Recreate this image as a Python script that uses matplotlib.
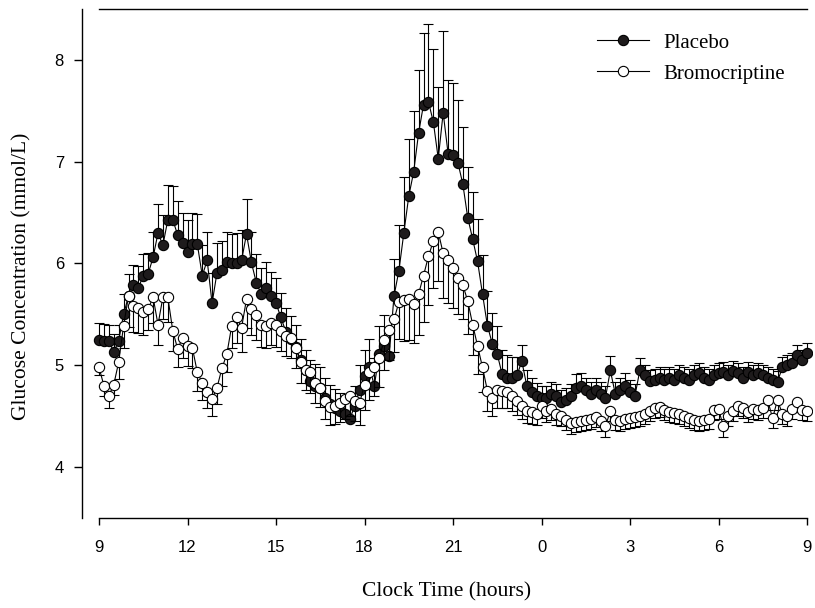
import numpy as np
import matplotlib
matplotlib.use("Agg")
import matplotlib.pyplot as plt

# Glucose (mmol/L), sampled every 10 min from 09:00 to 09:00 next day
placebo = [
    5.25, 5.24, 5.24, 5.13, 5.24, 5.50, 5.68, 5.79, 5.76, 5.88,
    5.90, 6.06, 6.30, 6.18, 6.43, 6.43, 6.28, 6.20, 6.11, 6.19,
    6.19, 5.88, 6.03, 5.61, 5.91, 5.94, 6.01, 6.00, 6.00, 6.03,
    6.29, 6.01, 5.81, 5.70, 5.76, 5.68, 5.61, 5.47, 5.33, 5.26,
    5.18, 5.05, 4.95, 4.85, 4.80, 4.78, 4.68, 4.62, 4.58, 4.55,
    4.52, 4.47, 4.60, 4.76, 4.89, 4.98, 4.80, 5.11, 5.19, 5.09,
    5.68, 5.93, 6.30, 6.66, 6.90, 7.28, 7.56, 7.59, 7.39, 7.03,
    7.48, 7.08, 7.07, 6.99, 6.78, 6.45, 6.24, 6.02, 5.70, 5.39,
    5.21, 5.11, 4.91, 4.88, 4.88, 4.90, 5.04, 4.80, 4.74, 4.70,
    4.68, 4.68, 4.72, 4.70, 4.64, 4.66, 4.70, 4.78, 4.80, 4.76,
    4.72, 4.76, 4.72, 4.68, 4.95, 4.72, 4.76, 4.80, 4.74, 4.70,
    4.95, 4.90, 4.85, 4.86, 4.88, 4.86, 4.88, 4.86, 4.90, 4.88,
    4.86, 4.90, 4.92, 4.88, 4.86, 4.90, 4.92, 4.93, 4.90, 4.94,
    4.92, 4.88, 4.93, 4.90, 4.92, 4.90, 4.88, 4.86, 4.84, 4.98,
    5.00, 5.02, 5.10, 5.05, 5.12,
]
placebo_sem = [
    0.17, 0.17, 0.16, 0.18, 0.16, 0.20, 0.22, 0.20, 0.22, 0.21,
    0.20, 0.25, 0.28, 0.30, 0.34, 0.33, 0.33, 0.30, 0.32, 0.31,
    0.30, 0.30, 0.28, 0.30, 0.29, 0.28, 0.30, 0.29, 0.30, 0.30,
    0.34, 0.30, 0.28, 0.26, 0.25, 0.24, 0.25, 0.24, 0.23, 0.22,
    0.22, 0.21, 0.20, 0.20, 0.21, 0.20, 0.20, 0.19, 0.19, 0.18,
    0.18, 0.18, 0.20, 0.24, 0.26, 0.28, 0.27, 0.28, 0.30, 0.28,
    0.36, 0.45, 0.55, 0.56, 0.60, 0.62, 0.70, 0.76, 0.72, 0.70,
    0.80, 0.72, 0.70, 0.62, 0.56, 0.50, 0.46, 0.42, 0.38, 0.34,
    0.30, 0.28, 0.24, 0.22, 0.20, 0.18, 0.16, 0.15, 0.14, 0.13,
    0.12, 0.12, 0.12, 0.12, 0.12, 0.12, 0.12, 0.13, 0.12, 0.12,
    0.12, 0.12, 0.12, 0.12, 0.14, 0.12, 0.12, 0.12, 0.12, 0.12,
    0.12, 0.10, 0.10, 0.10, 0.10, 0.10, 0.10, 0.10, 0.10, 0.10,
    0.10, 0.10, 0.10, 0.10, 0.10, 0.10, 0.10, 0.10, 0.10, 0.10,
    0.10, 0.10, 0.10, 0.10, 0.10, 0.10, 0.10, 0.10, 0.10, 0.10,
    0.10, 0.10, 0.10, 0.10, 0.10,
]
bromocriptine = [
    4.98, 4.80, 4.70, 4.81, 5.03, 5.39, 5.68, 5.58, 5.56, 5.52,
    5.55, 5.67, 5.40, 5.67, 5.67, 5.34, 5.16, 5.27, 5.19, 5.17,
    4.93, 4.83, 4.74, 4.67, 4.78, 4.97, 5.11, 5.39, 5.47, 5.37,
    5.65, 5.55, 5.49, 5.40, 5.39, 5.42, 5.40, 5.34, 5.29, 5.27,
    5.17, 5.03, 4.95, 4.93, 4.83, 4.78, 4.65, 4.59, 4.60, 4.63,
    4.67, 4.70, 4.65, 4.63, 4.81, 4.93, 4.98, 5.07, 5.25, 5.35,
    5.45, 5.62, 5.64, 5.65, 5.60, 5.70, 5.88, 6.07, 6.22, 6.31,
    6.10, 6.03, 5.96, 5.86, 5.79, 5.63, 5.40, 5.19, 4.98, 4.75,
    4.68, 4.76, 4.75, 4.74, 4.70, 4.65, 4.60, 4.55, 4.54, 4.52,
    4.60, 4.55, 4.57, 4.52, 4.50, 4.46, 4.43, 4.44, 4.45, 4.46,
    4.47, 4.49, 4.45, 4.40, 4.55, 4.46, 4.45, 4.47, 4.48, 4.49,
    4.50, 4.52, 4.55, 4.58, 4.59, 4.56, 4.54, 4.53, 4.52, 4.50,
    4.48, 4.46, 4.45, 4.46, 4.47, 4.56, 4.57, 4.40, 4.50, 4.55,
    4.60, 4.58, 4.54, 4.57, 4.56, 4.58, 4.66, 4.48, 4.66, 4.52,
    4.50, 4.57, 4.64, 4.56, 4.55,
]
bromocriptine_sem = [
    0.08, 0.10, 0.12, 0.10, 0.16, 0.22, 0.30, 0.25, 0.24, 0.22,
    0.20, 0.25, 0.20, 0.22, 0.24, 0.20, 0.18, 0.20, 0.20, 0.20,
    0.18, 0.17, 0.16, 0.17, 0.16, 0.17, 0.18, 0.22, 0.25, 0.24,
    0.28, 0.25, 0.24, 0.22, 0.22, 0.22, 0.22, 0.20, 0.20, 0.20,
    0.20, 0.20, 0.19, 0.20, 0.20, 0.19, 0.18, 0.18, 0.18, 0.19,
    0.20, 0.20, 0.20, 0.22, 0.25, 0.27, 0.28, 0.28, 0.30, 0.30,
    0.32, 0.36, 0.40, 0.40, 0.38, 0.40, 0.45, 0.48, 0.46, 0.48,
    0.44, 0.42, 0.40, 0.36, 0.34, 0.32, 0.30, 0.28, 0.24, 0.20,
    0.18, 0.18, 0.17, 0.16, 0.15, 0.14, 0.13, 0.12, 0.12, 0.11,
    0.12, 0.11, 0.11, 0.11, 0.10, 0.10, 0.10, 0.10, 0.10, 0.10,
    0.10, 0.10, 0.10, 0.10, 0.10, 0.10, 0.10, 0.10, 0.10, 0.10,
    0.10, 0.10, 0.10, 0.10, 0.10, 0.10, 0.10, 0.10, 0.10, 0.10,
    0.10, 0.10, 0.10, 0.10, 0.10, 0.10, 0.10, 0.10, 0.10, 0.10,
    0.10, 0.10, 0.10, 0.10, 0.10, 0.10, 0.10, 0.10, 0.10, 0.10,
    0.10, 0.10, 0.10, 0.10, 0.10,
]
tick_hours = [9, 12, 15, 18, 21, 24, 27, 30, 33]
tick_labels = ["9", "12", "15", "18", "21", "0", "3", "6", "9"]
y_ticks = [4, 5, 6, 7, 8]

sample_minutes = 10
time_h = 9 + np.arange(len(placebo)) * sample_minutes / 60.0

W, H = 815, 608
fig = plt.figure(figsize=(W / 100, H / 100), dpi=100)
fig.patch.set_facecolor("white")
ax = fig.add_axes([82 / W, (H - 518) / H, (812 - 82) / W, (518 - 9) / H])

serif = ["Liberation Serif", "DejaVu Serif"]
sans = ["Liberation Sans", "DejaVu Sans"]

zeros = np.zeros(len(placebo))
ax.errorbar(time_h, placebo, yerr=[zeros, placebo_sem], fmt="none",
            ecolor="black", elinewidth=0.8, capsize=3.6, capthick=0.8, zorder=2)
ax.errorbar(time_h, bromocriptine, yerr=[bromocriptine_sem, zeros], fmt="none",
            ecolor="black", elinewidth=0.8, capsize=3.6, capthick=0.8, zorder=4)
h1, = ax.plot(time_h, placebo, "-o", color="black", lw=0.8, ms=7.4,
              mfc="#1e1b1c", mec="black", mew=0.8, zorder=3, label="Placebo")
h2, = ax.plot(time_h, bromocriptine, "-o", color="black", lw=0.8, ms=7.4,
              mfc="white", mec="black", mew=0.8, zorder=5, label="Bromocriptine")

ax.set_xlim(9 - 17 / 29.5, 9 + (812 - 99) / 29.5)
ax.set_ylim(3.5, 8.5)
ax.set_xticks(tick_hours)
ax.set_xticklabels(tick_labels)
ax.set_yticks(y_ticks)
for lab in ax.get_xticklabels() + ax.get_yticklabels():
    lab.set_family(sans)
    lab.set_fontsize(12)
ax.tick_params(axis="x", direction="out", length=5, width=1, pad=11)
ax.tick_params(axis="y", direction="out", length=6, width=1, pad=7)

ax.spines["right"].set_visible(False)
for s in ["left", "top", "bottom"]:
    ax.spines[s].set_linewidth(1.0)
ax.spines["top"].set_bounds(9, 33)
ax.spines["bottom"].set_bounds(9, 33)

ax.set_xlabel("Clock Time (hours)", family=serif, fontsize=15.5)
ax.xaxis.label.set_va("center")
ax.xaxis.set_label_coords(0.5, (518 - 592) / 509)
ax.set_ylabel("Glucose Concentration (mmol/L)", family=serif, fontsize=15.5)
ax.yaxis.label.set_va("center")
ax.yaxis.set_label_coords((22 - 82) / 730, (518 - 276) / 509)

leg = ax.legend(handles=[h1, h2], loc="upper left",
                bbox_to_anchor=(597 / W, 1 - 33 / H), bbox_transform=fig.transFigure,
                frameon=False, borderpad=0, borderaxespad=0, handlelength=2.5,
                handletextpad=0.7, labelspacing=0.55, numpoints=1,
                prop={"family": serif, "size": 15})

fig.savefig("out.png", dpi=100, facecolor="white")
